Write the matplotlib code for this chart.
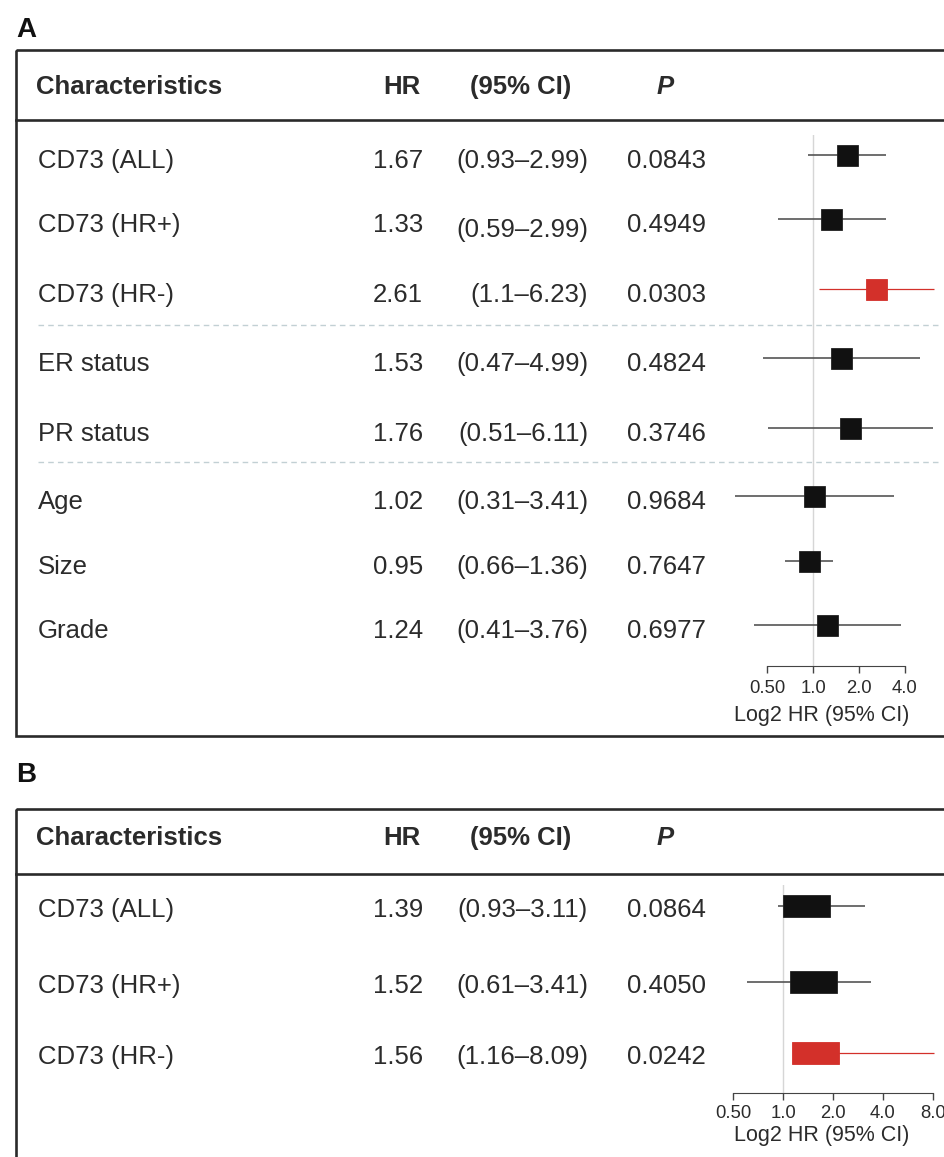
import matplotlib
matplotlib.use("Agg")
import matplotlib.pyplot as plt
from matplotlib.patches import Rectangle
from matplotlib.ticker import NullLocator

plt.rcParams['font.family'] = ['Liberation Sans', 'DejaVu Sans']

# ---- data, panel A ----
a_labels = ["CD73 (ALL)", "CD73 (HR+)", "CD73 (HR-)", "ER status", "PR status",
            "Age", "Size", "Grade"]
a_hr = [1.67, 1.33, 2.61, 1.53, 1.76, 1.02, 0.95, 1.24]
a_lo = [0.93, 0.59, 1.1, 0.47, 0.51, 0.31, 0.66, 0.41]
a_hi = [2.99, 2.99, 6.23, 4.99, 6.11, 3.41, 1.36, 3.76]
a_p = [0.0843, 0.4949, 0.0303, 0.4824, 0.3746, 0.9684, 0.7647, 0.6977]
a_ticks = [0.5, 1, 2, 4]
a_ticklabels = ["0.50", "1.0", "2.0", "4.0"]

# ---- data, panel B ----
b_labels = ["CD73 (ALL)", "CD73 (HR+)", "CD73 (HR-)"]
b_hr = [1.39, 1.52, 1.56]
b_lo = [0.93, 0.61, 1.16]
b_hi = [3.11, 3.41, 8.09]
b_p = [0.0864, 0.4050, 0.0242]
b_ticks = [0.5, 1, 2, 4, 8]
b_ticklabels = ["0.50", "1.0", "2.0", "4.0", "8.0"]

highlight = "CD73 (HR-)"
xlabel = "Log2 HR (95% CI)"

W, H = 944, 1157
TXT = '#2b2b2b'
RED = '#d3302a'
FS = 18.5

fig = plt.figure(figsize=(W / 100, H / 100), dpi=100)
bg = fig.add_axes([0, 0, 1, 1])
bg.set_xlim(0, W)
bg.set_ylim(H, 0)
bg.axis('off')


def panel(letter, letter_y, box_top, box_bot, head_y, head_line, rows_y,
          labels, hr, lo, hi, p, ticks, ticklabels, one_px, ppu,
          ax_top, ax_bot, half_w, box_h, mk_dy, tpad, lpad, seps=(),
          ci_dy=None):
    bg.text(16, letter_y, letter, fontsize=20, fontweight='bold', color='#111',
            va='center', ha='left')
    # frame
    bot = box_bot if box_bot is not None else H + 20
    bg.add_patch(Rectangle((16, box_top), W + 20, bot - box_top, fill=False,
                           lw=1.9, edgecolor='#2a2a2a', clip_on=False))
    bg.plot([16, W + 5], [head_line, head_line], color='#2a2a2a', lw=1.9)
    # header
    bg.text(36, head_y, "Characteristics", fontsize=FS, fontweight='bold',
            color=TXT, va='center', ha='left')
    bg.text(402, head_y, "HR", fontsize=FS, fontweight='bold', color=TXT,
            va='center', ha='center')
    bg.text(521, head_y, "(95% CI)", fontsize=FS, fontweight='bold', color=TXT,
            va='center', ha='center')
    bg.text(665, head_y, "P", fontsize=FS, fontweight='bold', style='italic',
            color=TXT, va='center', ha='center')
    for s in seps:
        bg.plot([38, 938], [s, s], color='#c2d0d4', lw=1, ls=(0, (4, 3)))
    for i, y in enumerate(rows_y):
        base = y + 9
        bg.text(38, base, labels[i], fontsize=FS, color=TXT, va='baseline')
        bg.text(423, base, f"{hr[i]:.2f}", fontsize=FS, color=TXT,
                va='baseline', ha='right')
        dy = ci_dy.get(i, 0) if ci_dy else 0
        bg.text(588, base + dy, f"({lo[i]:g}\u2013{hi[i]:g})", fontsize=FS,
                color=TXT, va='baseline', ha='right')
        bg.text(706, base, f"{p[i]:.4f}", fontsize=FS, color=TXT,
                va='baseline', ha='right')

    # forest part
    x0, x1 = 700, W
    ax = fig.add_axes([x0 / W, 1 - ax_bot / H, (x1 - x0) / W,
                       (ax_bot - ax_top) / H])
    ax.set_xscale('log', base=2)
    ax.set_xlim(2 ** ((x0 - one_px) / ppu), 2 ** ((x1 - one_px) / ppu))
    ax.set_ylim(ax_bot, ax_top)
    ax.patch.set_alpha(0)
    for s in ['top', 'right', 'left']:
        ax.spines[s].set_visible(False)
    ax.spines['bottom'].set_bounds(ticks[0], ticks[-1])
    ax.spines['bottom'].set_color('#444')
    ax.set_xticks(ticks)
    ax.set_xticklabels(ticklabels)
    ax.xaxis.set_minor_locator(NullLocator())
    ax.set_yticks([])
    ax.tick_params(axis='x', labelsize=13.3, length=5, width=1, color='#444',
                   labelcolor=TXT, pad=tpad)
    ax.set_xlabel(xlabel, fontsize=15.5, color=TXT, labelpad=lpad)
    ax.axvline(1, color='#d6d6d6', lw=1, zorder=0)
    for i, y in enumerate(rows_y):
        my = y + mk_dy
        red = labels[i] == highlight
        c = RED if red else '#111111'
        ax.hlines(my, lo[i], hi[i], color=RED if red else '#555555',
                  lw=0.9 if red else 1.2, zorder=2)
        left = hr[i] * 2 ** (-half_w)
        ax.barh(my, hr[i] * 2 ** half_w - left, left=left, height=box_h,
                color=c, edgecolor='#222222' if not red else RED, lw=0.6,
                zorder=3)


panel("A", 30, 50, 736, 87, 120,
      [159, 223, 293, 362, 432, 500, 565, 629],
      a_labels, a_hr, a_lo, a_hi, a_p, a_ticks, a_ticklabels,
      one_px=813, ppu=46, ax_top=135, ax_bot=666, half_w=0.228, box_h=21,
      mk_dy=-4, tpad=5, lpad=6, seps=(325, 462), ci_dy={1: 5})

panel("B", 775, 809, None, 838, 874,
      [908, 984, 1055],
      b_labels, b_hr, b_lo, b_hi, b_p, b_ticks, b_ticklabels,
      one_px=783, ppu=50, ax_top=885, ax_bot=1093, half_w=0.47, box_h=22,
      mk_dy=-2, tpad=4, lpad=1.5)

fig.savefig("out.png", dpi=100)
